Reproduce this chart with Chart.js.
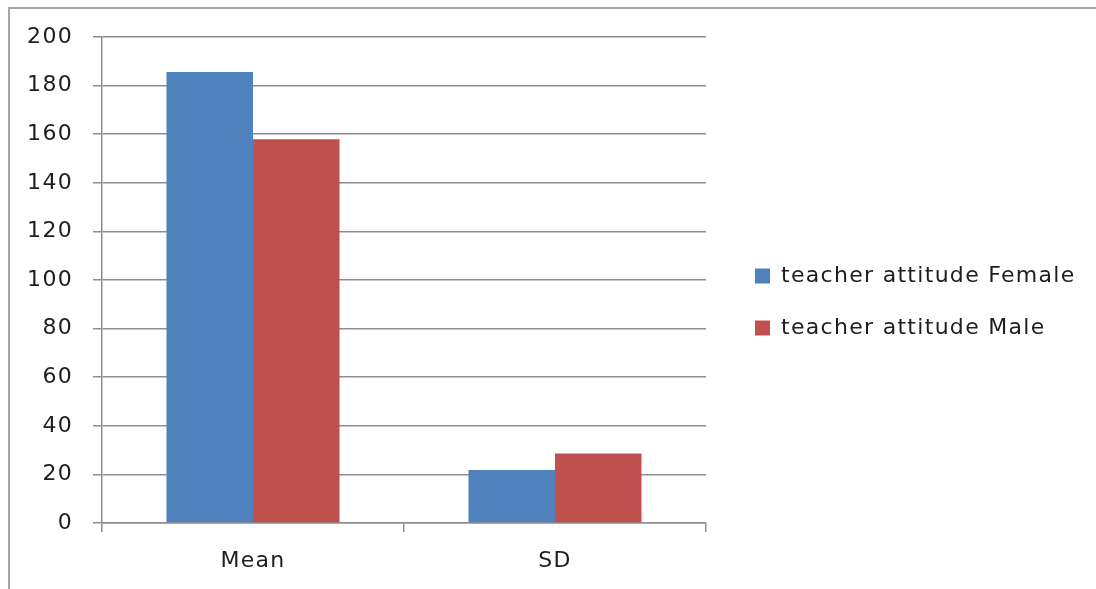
<!DOCTYPE html>
<html>
<head>
<meta charset="utf-8">
<script src="https://cdn.jsdelivr.net/npm/chart.js@4.4.1/dist/chart.umd.min.js"></script>
<style>
    html, body { margin: 0; padding: 0; background: #fff; overflow: hidden; }
    #frame {
        position: absolute; left: 8px; top: 7px; width: 1200px; height: 700px;
        border-left: 2px solid #a6a6a6; border-top: 2px solid #a6a6a6;
    }
    #wrap { position: absolute; left: 0; top: 0; width: 1096px; height: 589px; }
</style>
</head>
<body>
<div id="frame"></div>
<div id="wrap"><canvas id="chart"></canvas></div>
<script>
const categories = ["Mean", "SD"];
const femaleValues = [185.6, 21.8];
const maleValues = [157.9, 28.6];
const seriesNames = ["teacher attitude Female", "teacher attitude Male"];
const yTicks = { min: 0, max: 200, step: 20 };

const textColor = '#1e1e1e';
const lineColor = '#8e8e8e';
const font = { family: 'DejaVu Sans', size: 22 };
const legendWidth = 390; // from the plot's right edge to the canvas edge

// Excel text here is drawn wide, so add a little spacing on the canvas context
function setSpacing(chart) {
    chart.ctx.letterSpacing = '1.3px';
}

const spacingPlugin = {
    id: 'spacing',
    beforeUpdate: setSpacing,
    beforeLayout(chart) {
        setSpacing(chart);
        // the layout caps a side legend at a quarter of the width; lift that cap
        const lg = chart.legend;
        if (lg && !lg._wideFit) {
            const origFit = lg.fit;
            lg.fit = function () {
                this.maxWidth = 2000;
                origFit.call(this);
                this.width = legendWidth;
            };
            lg._wideFit = true;
        }
    },
    beforeDraw: setSpacing,
    afterLayout(chart) {
        // gap between plot and legend, and vertical centre of the legend
        const lg = chart.legend;
        lg.left += 19; lg.right += 19;
        lg.top -= 11; lg.bottom -= 11;
    }
};

var ctx = document.getElementById('chart').getContext('2d');

const config = {
    type: 'bar',
    data: {
        labels: categories,
        datasets: [{
            label: seriesNames[0],
            data: femaleValues,
            backgroundColor: '#4f81bd',
            borderWidth: 0
        }, {
            label: seriesNames[1],
            data: maleValues,
            backgroundColor: '#c0504d',
            borderWidth: 0
        }]
    },
    options: {
        responsive: true,
        maintainAspectRatio: false,
        animation: false,
        layout: { padding: { left: 0, top: 37, right: 0, bottom: 0 } },
        datasets: {
            bar: { categoryPercentage: 0.573, barPercentage: 1 }
        },
        plugins: {
            tooltip: { enabled: false },
            legend: {
                position: 'right',
                labels: {
                    color: textColor,
                    font: font,
                    boxWidth: 15,
                    boxHeight: 15,
                    padding: 30
                }
            }
        },
        scales: {
            x: {
                offset: true,
                grid: {
                    display: true,
                    drawOnChartArea: false,
                    drawTicks: true,
                    tickLength: 9,
                    color: lineColor,
                    lineWidth: 1.5
                },
                border: { color: lineColor, width: 1.5 },
                ticks: { color: textColor, font: font, padding: 16 },
                afterFit: (s) => { s.height = 66; }
            },
            y: {
                min: yTicks.min,
                max: yTicks.max,
                grid: {
                    color: lineColor,
                    lineWidth: 1.5,
                    tickLength: 9
                },
                border: { color: lineColor, width: 1.5 },
                ticks: { stepSize: yTicks.step, color: textColor, font: font, padding: 20 },
                afterFit: (s) => { s.width = 102; }
            }
        }
    },
    plugins: [spacingPlugin]
};

let chart = new Chart(ctx, config);
</script>
</body>
</html>
